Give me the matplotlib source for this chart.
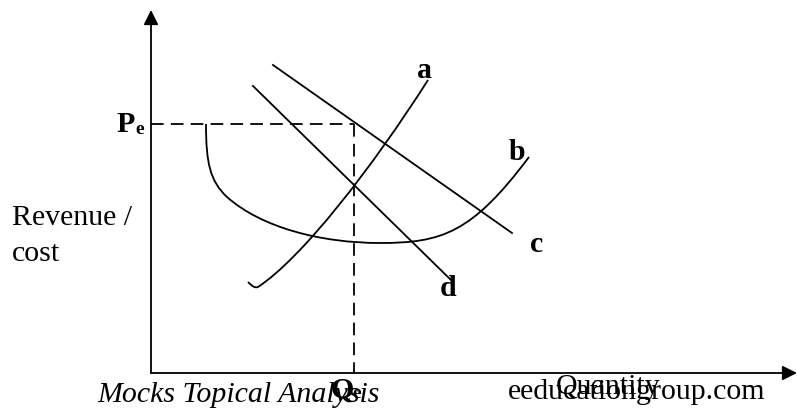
import matplotlib
matplotlib.use("Agg")
from matplotlib import pyplot as plt
from matplotlib.path import Path
from matplotlib.patches import PathPatch

plt.rcParams["font.family"] = ["Liberation Serif", "DejaVu Serif"]

# equilibrium price / quantity (pixel-like units, origin at axes corner)
pe = 249
qe = 203

# straight lines c and d: (start, end)
line_c = [(122, 308), (361, 140)]
line_d = [(102, 287), (300, 93)]

# curve a: short hook then rising cubic (bezier control points)
curve_a = [(97, 91), (102, 86), (104, 85), (107, 86),
           (151, 115), (221, 205), (277, 293)]
# curve b: U-shaped, three cubic segments
curve_b = [(55, 249), (55, 210), (59, 192), (76, 176),
           (111, 145), (171, 130), (229, 130),
           (291, 130), (321, 140), (378, 216)]

curve_labels = ["a", "b", "c", "d"]
label_pos = [(274, 303), (366, 220), (386, 128), (297, 85)]

fig = plt.figure(figsize=(7.97, 4.08), dpi=100)
ax = fig.add_axes([0, 0, 1, 1])
ax.set_xlim(-151, 646)
ax.set_ylim(-35, 373)
ax.axis("off")

lw = 1.3
fs = 21.5

# axes with arrows
ax.annotate("", xy=(0, 363), xytext=(0, 0),
            arrowprops=dict(arrowstyle="-|>", color="k", lw=lw, mutation_scale=22,
                            shrinkA=0, shrinkB=0))
ax.annotate("", xy=(646, 0), xytext=(0, 0),
            arrowprops=dict(arrowstyle="-|>", color="k", lw=lw, mutation_scale=22,
                            shrinkA=0, shrinkB=0))

# dashed guides
ax.plot([0, qe], [pe, pe], color="k", lw=lw, dashes=(7, 4))
ax.plot([qe, qe], [pe, 0], color="k", lw=lw, dashes=(7, 4))

# straight lines
for ln in (line_c, line_d):
    ax.plot([ln[0][0], ln[1][0]], [ln[0][1], ln[1][1]], color="k", lw=lw)

# bezier curves
for pts in (curve_a, curve_b):
    codes = [Path.MOVETO] + [Path.CURVE4] * (len(pts) - 1)
    ax.add_patch(PathPatch(Path(pts, codes), fill=False, color="k", lw=lw))

for lab, (x, y) in zip(curve_labels, label_pos):
    ax.text(x, y, lab, fontsize=fs, fontweight="bold", ha="center", va="center")

# axis labels
ax.text(-139, 155, "Revenue /", fontsize=fs, ha="left", va="center")
ax.text(-139, 119, "cost", fontsize=fs, ha="left", va="center")
ax.text(-16, 249, "P", fontsize=fs, fontweight="bold", ha="right", va="center")
ax.text(-16, 244, "e", fontsize=14, fontweight="bold", ha="left", va="center")
ax.text(191, -17, "Q", fontsize=fs, fontweight="bold", ha="center", va="center")
ax.text(201, -21, "e", fontsize=14, fontweight="bold", ha="left", va="center")
ax.text(457, -14, "Quantity", fontsize=fs, ha="center", va="center")

# footer
ax.text(-54, -22, "Mocks Topical Analysis", fontsize=fs, style="italic",
        ha="left", va="center")
ax.text(357, -19, "eeducationgroup.com", fontsize=fs, ha="left", va="center")

fig.savefig("out.png", dpi=100)
